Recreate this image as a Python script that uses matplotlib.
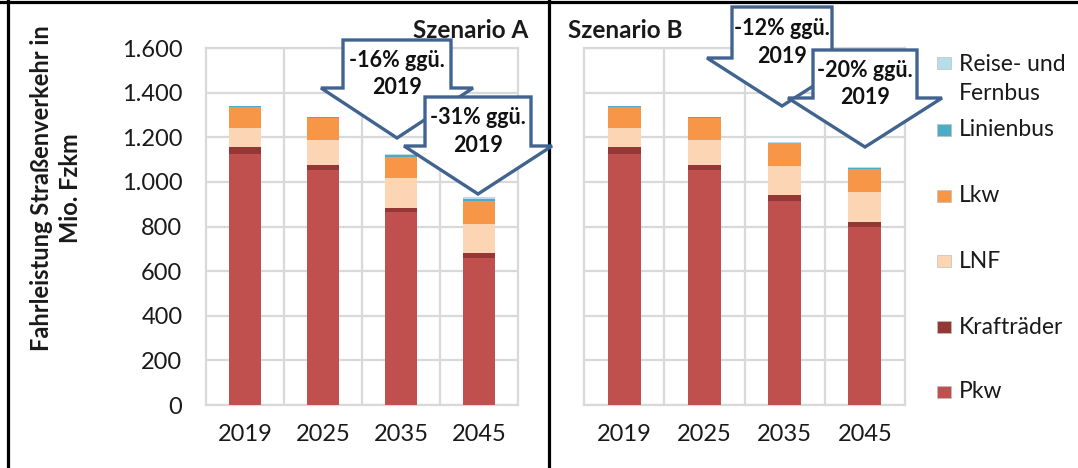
import matplotlib
matplotlib.use("Agg")
import matplotlib.pyplot as plt
import matplotlib.transforms as mtransforms
from matplotlib.patches import Polygon, Rectangle
from matplotlib.lines import Line2D
from matplotlib.ticker import FuncFormatter, FixedLocator
import numpy as np

plt.rcParams['font.family'] = ['Lato', 'DejaVu Sans']

# ---- data (Mio. Fzkm) ----
years = ['2019', '2025', '2035', '2045']
series_names = ['Pkw', 'Krafträder', 'LNF', 'Lkw', 'Linienbus', 'Reise- und\nFernbus']
series_colors = ['#c0504d', '#953735', '#fcd5b5', '#f79646', '#4bacc6', '#b7dee8']

pkw_a = [1124, 1053, 864, 659]
kraft_a = [31, 24, 19, 21]
lnf_a = [85, 112, 133, 131]
lkw_a = [97, 98, 97, 103]
linien_a = [2, 2, 7, 10]
reise_a = [2, 1, 4, 7]

pkw_b = [1124, 1053, 916, 798]
kraft_b = [31, 24, 24, 24]
lnf_b = [85, 112, 131, 133]
lkw_b = [97, 98, 103, 101]
linien_b = [2, 2, 2, 6]
reise_b = [2, 1, 1, 3]

arrow_labels_a = ['-16% ggü.\n2019', '-31% ggü.\n2019']
arrow_labels_b = ['-12% ggü.\n2019', '-20% ggü.\n2019']

W, H = 1078, 468
fig = plt.figure(figsize=(W / 100, H / 100), dpi=100)
fig.patch.set_facecolor('white')

# pixel coordinates (y down) -> figure
px = mtransforms.Affine2D().scale(1, -1).translate(0, H).scale(1 / W, 1 / H) + fig.transFigure

GRID = '#d9d9d9'
TXT = '#1a1a1a'


def make_axes(left, right, show_y):
    ax = fig.add_axes([left / W, 1 - 405 / H, (right - left) / W, (405 - 48) / H])
    ax.set_xlim(-0.5, 3.5)
    ax.set_ylim(0, 1600)
    ax.set_yticks(np.arange(0, 1601, 200))
    ax.yaxis.set_major_formatter(FuncFormatter(lambda v, p: f"{int(v):,}".replace(',', '.')))
    ax.set_xticks(range(len(years)))
    ax.set_xticklabels(years)
    ax.xaxis.set_minor_locator(FixedLocator([0.5, 1.5, 2.5]))
    ax.grid(True, which='major', axis='y', color=GRID, linewidth=1.6)
    ax.grid(True, which='minor', axis='x', color=GRID, linewidth=1.6)
    ax.set_axisbelow(True)
    ax.tick_params(axis='both', which='both', length=0, labelsize=17, colors=TXT)
    ax.tick_params(axis='x', pad=14)
    ax.tick_params(axis='y', pad=17)
    if not show_y:
        ax.tick_params(axis='y', labelleft=False)
    for s in ax.spines.values():
        s.set_color(GRID)
        s.set_linewidth(1.6)
    return ax


def stacked(ax, parts, width):
    x = np.arange(len(years))
    bottom = np.zeros(len(years))
    for vals, col in zip(parts, series_colors):
        ax.bar(x, vals, width, bottom=bottom, color=col, linewidth=0, zorder=3)
        bottom += np.array(vals)


ax_a = make_axes(206, 518, True)
ax_b = make_axes(584, 905, False)
stacked(ax_a, [pkw_a, kraft_a, lnf_a, lkw_a, linien_a, reise_a], 0.40)
stacked(ax_b, [pkw_b, kraft_b, lnf_b, lkw_b, linien_b, reise_b], 0.41)

fig.text(56, 188, 'Fahrleistung Straßenverkehr in\nMio. Fzkm', transform=px, rotation=90,
         ha='center', va='center', fontsize=17, fontweight='bold', linespacing=1.3,
         color=TXT)

fig.text(528, 30, 'Szenario A', transform=px, ha='right', va='center',
         fontsize=17.5, fontweight='bold', color=TXT)
fig.text(568, 30, 'Szenario B', transform=px, ha='left', va='center',
         fontsize=17.5, fontweight='bold', color=TXT)


def block_arrow(cx, top, shoulder, tip, body_half, head_half, label):
    pts = [(cx - body_half, top), (cx + body_half, top), (cx + body_half, shoulder),
           (cx + head_half, shoulder), (cx, tip), (cx - head_half, shoulder),
           (cx - body_half, shoulder)]
    fig.add_artist(Polygon(pts, closed=True, transform=px, facecolor='white',
                           edgecolor='#41638f', linewidth=2.4, joinstyle='miter',
                           zorder=10))
    fig.text(cx, (top + shoulder) / 2 + 10, label, transform=px, ha='center', va='center',
             fontsize=15.5, fontweight='bold', linespacing=1.4, color='#111111', zorder=11)


block_arrow(397, 40, 88, 138, 54, 76, arrow_labels_a[0])
block_arrow(478, 97, 146, 194, 53, 74, arrow_labels_a[1])
block_arrow(782, 7, 58, 106, 50, 75, arrow_labels_b[0])
block_arrow(865, 50, 98, 147, 52, 77, arrow_labels_b[1])

# legend (top entry first)
legend_y = [63, 130, 196, 261, 327, 392]
for name, col, y in zip(series_names[::-1], series_colors[::-1], legend_y):
    fig.add_artist(Rectangle((937, y - 6), 14, 12, transform=px, facecolor=col,
                             edgecolor='#bfbfbf', linewidth=0.5))
    ty = y + 16 if '\n' in name else y
    fig.text(959, ty, name, transform=px, ha='left', va='center', fontsize=16.5,
             linespacing=1.45, color=TXT)

# outer frame lines
for xs, ys in [((0, W), (1.5, 1.5)), ((8, 8), (0, H)), ((549, 549), (0, H))]:
    fig.add_artist(Line2D(xs, ys, transform=px, color='black', linewidth=2.3))

fig.savefig('out.png', dpi=100)
